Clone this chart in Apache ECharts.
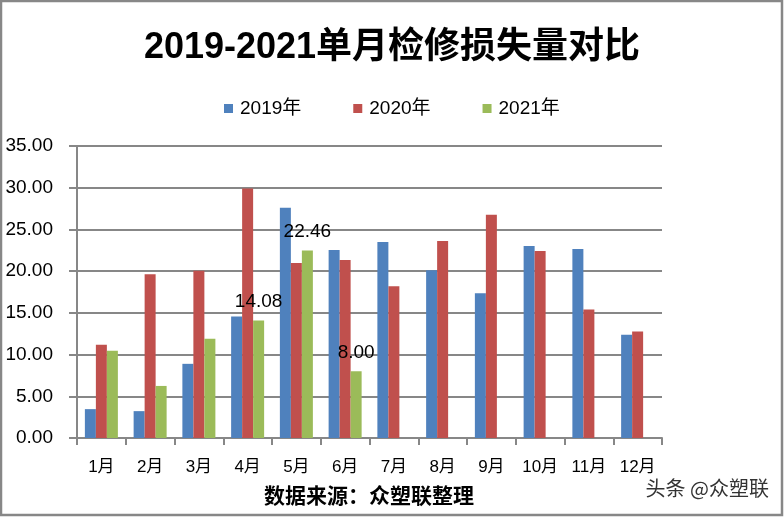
<!DOCTYPE html>
<html>
<head>
<meta charset="utf-8">
<script src="https://cdn.jsdelivr.net/npm/echarts@6/dist/echarts.min.js"></script>
<style>
html, body { margin: 0; padding: 0; background: #fff; }
#main { width: 784px; height: 517px; }
</style>
</head>
<body>
<div id="main"></div>
<script>
var months = ['1月', '2月', '3月', '4月', '5月', '6月', '7月', '8月', '9月', '10月', '11月', '12月'];
var y2019 = [3.46, 3.22, 8.89, 14.57, 27.60, 22.54, 23.50, 20.12, 17.34, 23.02, 22.66, 12.39];
var y2020 = [11.19, 19.64, 20.04, 29.90, 20.97, 21.33, 18.19, 23.62, 26.76, 22.41, 15.41, 12.76];
var y2021 = [10.46, 6.24, 11.91, 14.08, 22.46, 8.00, null, null, null, null, null, null];
var labelled2021 = [3, 4, 5]; // 只有4-6月显示数值
var yTicks = { min: 0, max: 35, interval: 5 };

var latin = "'Liberation Sans', 'Noto Sans CJK SC', sans-serif";
var gridColor = '#878787';

var chart = echarts.init(document.getElementById('main'));

var greenData = y2021.map(function (v, i) {
    if (labelled2021.indexOf(i) >= 0) {
        return { value: v, label: { show: true } };
    }
    return v;
});

var option = {
    animation: false,
    backgroundColor: '#fff',
    color: ['#4F81BD', '#C0504D', '#9BBB59'],
    title: {
        text: '2019-2021单月检修损失量对比',
        left: 'center',
        top: 25,
        textStyle: {
            fontFamily: latin,
            fontWeight: 'bold',
            fontSize: 36,
            color: '#000'
        }
    },
    legend: {
        top: 94,
        left: 219,
        itemWidth: 9,
        itemHeight: 9,
        itemGap: 52,
        icon: 'rect',
        textStyle: {
            fontFamily: latin,
            fontSize: 19,
            color: '#000',
            padding: [0, 0, 0, 2]
        },
        data: ['2019年', '2020年', '2021年']
    },
    grid: {
        left: 77,
        right: 122,
        top: 146,
        bottom: 79,
        containLabel: false
    },
    xAxis: {
        type: 'category',
        data: months,
        boundaryGap: true,
        axisLine: { lineStyle: { color: gridColor, width: 2 } },
        axisTick: { show: true, length: 7, alignWithLabel: false, lineStyle: { color: gridColor, width: 2 } },
        axisLabel: {
            margin: 21,
            interval: 0,
            fontFamily: latin,
            fontSize: 17,
            color: '#000'
        }
    },
    yAxis: {
        type: 'value',
        min: yTicks.min,
        max: yTicks.max,
        interval: yTicks.interval,
        axisLine: { show: true, lineStyle: { color: gridColor, width: 2 } },
        axisTick: { show: true, length: 8, lineStyle: { color: gridColor, width: 2 } },
        splitLine: { lineStyle: { color: gridColor, width: 2 } },
        axisLabel: {
            margin: 24,
            fontFamily: latin,
            fontSize: 19,
            color: '#000',
            formatter: function (v) { return v.toFixed(2); }
        }
    },
    series: [
        { name: '2019年', type: 'bar', barWidth: 11, barGap: '0%', data: y2019 },
        { name: '2020年', type: 'bar', barWidth: 11, barGap: '0%', data: y2020 },
        {
            name: '2021年', type: 'bar', barWidth: 11, barGap: '0%',
            data: greenData,
            label: {
                show: false,
                position: 'top',
                distance: 9,
                fontFamily: latin,
                fontSize: 19,
                color: '#000',
                formatter: function (p) { return p.value.toFixed(2); }
            }
        }
    ],
    graphic: [
        {
            type: 'rect',
            shape: { x: 1, y: 1, width: 781, height: 514 },
            style: { fill: 'none', stroke: gridColor, lineWidth: 2.5 },
            silent: true
        },
        {
            type: 'text',
            left: 264,
            top: 485,
            style: {
                text: '数据来源：众塑联整理',
                font: 'bold 21px "Noto Sans CJK SC", sans-serif',
                fill: '#000'
            }
        },
        {
            type: 'text',
            left: 645,
            top: 478,
            style: {
                text: '头条 @众塑联',
                font: '20px "Noto Sans CJK SC", sans-serif',
                fill: '#333',
                stroke: '#fff',
                lineWidth: 1
            }
        }
    ]
};

chart.setOption(option);
</script>
</body>
</html>
